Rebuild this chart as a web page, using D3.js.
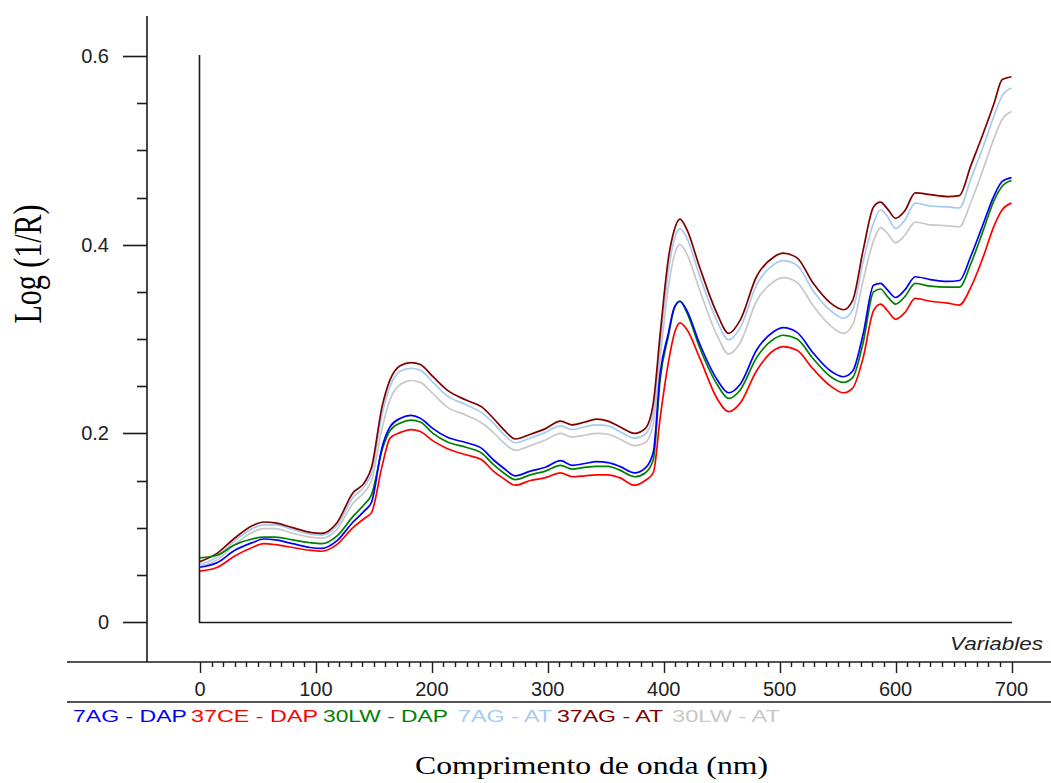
<!DOCTYPE html>
<html>
<head>
<meta charset="utf-8">
<script src="https://cdn.jsdelivr.net/npm/d3@7"></script>
<style>
  html, body { margin: 0; padding: 0; background: #fff; }
  svg { display: block; }
</style>
</head>
<body>
<svg id="chart" width="1051" height="783"></svg>
<script>
// ---------------- DATA ----------------
const wavelengths = [0,15,30,45,55,65,80,95,105,118,132,142,148,157,164,173,182,190,201,213,230,243,253,262,272,285,298,311,321,332,342,352,362,375,384,391,397,404,409,414,420,431,446,456,466,480,495,503,515,529,544,555,563,572,581,587,593,600,608,617,630,645,655,665,675,685,692,700];

const s7AG_DAP  = [0.058,0.063,0.076,0.084,0.088,0.087,0.083,0.079,0.078,0.086,0.106,0.118,0.127,0.185,0.207,0.216,0.219,0.216,0.205,0.196,0.190,0.184,0.172,0.163,0.155,0.160,0.164,0.171,0.166,0.168,0.170,0.169,0.165,0.158,0.163,0.180,0.264,0.306,0.333,0.340,0.330,0.295,0.257,0.243,0.252,0.288,0.308,0.312,0.307,0.285,0.266,0.260,0.266,0.305,0.357,0.359,0.352,0.344,0.352,0.366,0.363,0.361,0.362,0.388,0.420,0.452,0.467,0.471];
const s37CE_DAP = [0.054,0.058,0.070,0.079,0.083,0.082,0.079,0.076,0.075,0.082,0.100,0.110,0.116,0.165,0.195,0.201,0.204,0.202,0.192,0.184,0.177,0.172,0.160,0.152,0.145,0.150,0.153,0.158,0.154,0.155,0.156,0.156,0.153,0.145,0.150,0.158,0.217,0.275,0.305,0.317,0.310,0.280,0.237,0.223,0.232,0.266,0.288,0.292,0.288,0.268,0.250,0.243,0.248,0.280,0.330,0.337,0.330,0.321,0.328,0.343,0.340,0.338,0.336,0.355,0.385,0.420,0.437,0.444];
const s30LW_DAP = [0.068,0.071,0.082,0.088,0.090,0.090,0.087,0.084,0.083,0.091,0.112,0.125,0.135,0.182,0.203,0.211,0.214,0.212,0.200,0.191,0.185,0.179,0.167,0.158,0.151,0.156,0.160,0.166,0.162,0.164,0.165,0.165,0.161,0.154,0.158,0.172,0.258,0.303,0.332,0.340,0.328,0.291,0.252,0.237,0.246,0.280,0.300,0.304,0.300,0.279,0.260,0.254,0.259,0.296,0.350,0.353,0.345,0.337,0.345,0.359,0.356,0.355,0.355,0.380,0.413,0.447,0.462,0.468];
const s7AG_AT   = [0.061,0.069,0.086,0.099,0.103,0.103,0.098,0.093,0.092,0.102,0.132,0.144,0.158,0.220,0.250,0.266,0.269,0.267,0.254,0.240,0.230,0.222,0.211,0.199,0.190,0.195,0.201,0.208,0.204,0.207,0.209,0.208,0.202,0.195,0.199,0.222,0.295,0.372,0.405,0.417,0.407,0.367,0.319,0.299,0.312,0.357,0.379,0.383,0.378,0.351,0.330,0.322,0.331,0.382,0.423,0.437,0.430,0.417,0.426,0.444,0.441,0.440,0.439,0.470,0.502,0.537,0.558,0.566];
const s37AG_AT  = [0.064,0.073,0.089,0.102,0.106,0.105,0.100,0.095,0.094,0.105,0.137,0.148,0.164,0.228,0.257,0.272,0.275,0.273,0.260,0.246,0.235,0.228,0.216,0.204,0.194,0.199,0.205,0.213,0.209,0.212,0.215,0.213,0.207,0.200,0.205,0.232,0.306,0.385,0.415,0.427,0.416,0.376,0.327,0.306,0.320,0.366,0.387,0.391,0.386,0.359,0.338,0.331,0.341,0.394,0.440,0.445,0.438,0.428,0.436,0.455,0.453,0.451,0.452,0.484,0.516,0.550,0.575,0.578];
const s30LW_AT  = [0.059,0.066,0.082,0.095,0.099,0.099,0.094,0.090,0.089,0.098,0.126,0.138,0.150,0.205,0.236,0.252,0.256,0.254,0.242,0.228,0.219,0.211,0.201,0.190,0.182,0.187,0.193,0.200,0.196,0.198,0.200,0.199,0.194,0.187,0.190,0.210,0.280,0.355,0.388,0.400,0.390,0.352,0.304,0.284,0.296,0.340,0.361,0.365,0.360,0.335,0.314,0.306,0.315,0.362,0.404,0.418,0.412,0.402,0.410,0.424,0.421,0.420,0.419,0.445,0.478,0.513,0.533,0.541];

const seriesNames = ["7AG - DAP","37CE - DAP","30LW - DAP","7AG - AT","37AG - AT","30LW - AT"];
const seriesValues = [s7AG_DAP, s37CE_DAP, s30LW_DAP, s7AG_AT, s37AG_AT, s30LW_AT];
const seriesColors = ["#0000ff","#ff0000","#008000","#a6caf0","#800000","#c8c8c8"];

const xTicks = [0,100,200,300,400,500,600,700];
const yTicks = [0,0.2,0.4,0.6];
const yTickLabels = ["0","0.2","0.4","0.6"];
const xTitle = "Comprimento de onda (nm)";
const yTitle = "Log (1/R)";
const variablesLabel = "Variables";

// ---------------- LAYOUT ----------------
const svg = d3.select("#chart");
const x = d3.scaleLinear().domain([0,700]).range([200,1011.5]);
const y = d3.scaleLinear().domain([0,0.6]).range([622,56]);
const axisColor = "#1a1a1a";
const sans = "'Liberation Sans', Arial, sans-serif";
const serif = "'Liberation Serif', 'Times New Roman', serif";

// Outer left axis line
svg.append("line").attr("x1",147).attr("x2",147).attr("y1",16).attr("y2",662)
  .attr("stroke",axisColor).attr("stroke-width",1.6);

// Left y ticks (major & minor)
const yMinor = d3.range(0, 0.6001, 0.05);
svg.append("g").selectAll("line").data(yMinor).join("line")
  .attr("x1", d => (Math.abs(d*5 - Math.round(d*5)) < 1e-6) ? 123 : 137)
  .attr("x2",147)
  .attr("y1", d => Math.round(y(d)) + 0.5).attr("y2", d => Math.round(y(d)) + 0.5)
  .attr("stroke",axisColor).attr("stroke-width",1.6);

svg.append("g").selectAll("text").data(yTicks).join("text")
  .attr("x",109).attr("y", d => y(d) + 7)
  .attr("text-anchor","end")
  .attr("font-family",sans).attr("font-size",20).attr("fill","#222")
  .text((d,i) => yTickLabels[i]);

// Inner frame lines
svg.append("line").attr("x1",199.5).attr("x2",199.5).attr("y1",55).attr("y2",622.5)
  .attr("stroke",axisColor).attr("stroke-width",1.6);
svg.append("line").attr("x1",199).attr("x2",1012).attr("y1",622.5).attr("y2",622.5)
  .attr("stroke",axisColor).attr("stroke-width",1.6);

// Bottom axis line and second line
svg.append("line").attr("x1",67).attr("x2",1051).attr("y1",662).attr("y2",662)
  .attr("stroke",axisColor).attr("stroke-width",1.6);
svg.append("line").attr("x1",67).attr("x2",1051).attr("y1",702).attr("y2",702)
  .attr("stroke",axisColor).attr("stroke-width",1.4);

// X ticks
const xMinor = d3.range(0, 701, 10);
svg.append("g").selectAll("line").data(xMinor).join("line")
  .attr("x1", d => Math.round(x(d)) + 0.5).attr("x2", d => Math.round(x(d)) + 0.5)
  .attr("y1",662).attr("y2", d => d % 100 === 0 ? 673 : 667)
  .attr("stroke",axisColor).attr("stroke-width",1.4);

svg.append("g").selectAll("text").data(xTicks).join("text")
  .attr("x", d => x(d)).attr("y",696)
  .attr("text-anchor","middle")
  .attr("font-family",sans).attr("font-size",20).attr("fill","#222")
  .text(d => d);

// Variables label
svg.append("text").attr("x",950).attr("y",650)
  .attr("font-family",sans).attr("font-size",19).attr("font-style","italic").attr("fill","#222")
  .attr("textLength",93).attr("lengthAdjust","spacingAndGlyphs")
  .text(variablesLabel);

// Curves
const line = d3.line()
  .x(d => x(d[0])).y(d => y(d[1]))
  .curve(d3.curveMonotoneX);

const drawOrder = [3,5,4,2,0,1];
svg.append("g").selectAll("path").data(drawOrder).join("path")
  .attr("d", i => line(wavelengths.map((w,k) => [w, seriesValues[i][k]])))
  .attr("fill","none")
  .attr("stroke", i => seriesColors[i])
  .attr("stroke-width",1.7)
  .attr("stroke-linejoin","round");

// Legend
const legendStarts = [73,191,323,458,557,672];
const legendWidths = [114,127,125,94,106,108];
svg.append("g").selectAll("text").data(seriesNames).join("text")
  .attr("x",(d,i) => legendStarts[i]).attr("y",722)
  .attr("font-family",sans).attr("font-size",17)
  .attr("fill",(d,i) => seriesColors[i])
  .attr("textLength",(d,i) => legendWidths[i]).attr("lengthAdjust","spacingAndGlyphs")
  .text(d => d);

// X title
svg.append("text").attr("x",415).attr("y",774)
  .attr("font-family",serif).attr("font-size",25.5).attr("fill","#000")
  .attr("textLength",353).attr("lengthAdjust","spacingAndGlyphs")
  .text(xTitle);

// Y title (rotated, horizontally stretched glyphs)
svg.append("text")
  .attr("transform","translate(41,264) scale(1.3,1) rotate(-90)")
  .attr("text-anchor","middle")
  .attr("font-family",serif).attr("font-size",30).attr("fill","#000")
  .text(yTitle);
</script>
</body>
</html>
